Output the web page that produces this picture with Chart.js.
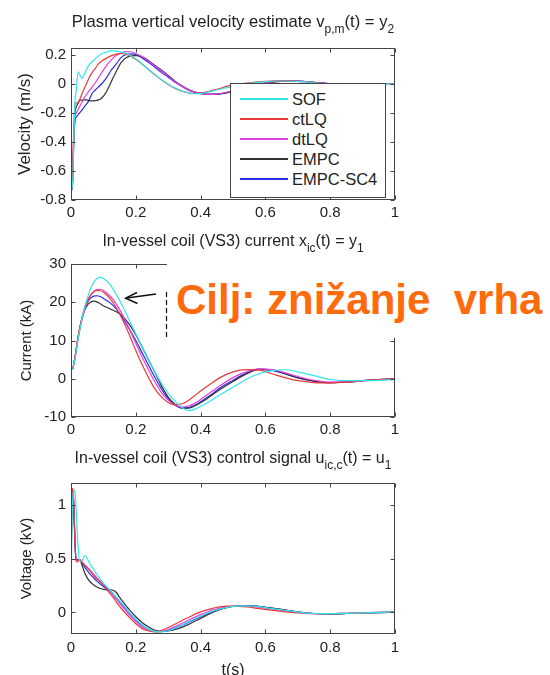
<!DOCTYPE html>
<html>
<head>
<meta charset="utf-8">
<script src="https://cdn.jsdelivr.net/npm/chart.js@4.4.1/dist/chart.umd.min.js"></script>
<style>
  html, body { margin:0; padding:0; background:#fff; }
  body { width:550px; height:675px; overflow:hidden; position:relative; font-family:'Liberation Sans', Arial, sans-serif; color:#222; }
  canvas { position:absolute; left:0; }
  .ttl { position:absolute; left:71px; width:324px; text-align:center; font-size:16px; line-height:16px; white-space:nowrap; }
  .ttl sub { font-size:12px; vertical-align:-6px; line-height:0; }
  #legend { position:absolute; left:230px; top:83px; width:154px; height:113px; border:1px solid #444; background:#fff; }
  .lrow { position:absolute; left:0; height:20px; width:154px; }
  .lline { position:absolute; left:9px; top:9px; width:48px; height:2px; }
  .ltxt { position:absolute; left:61px; top:0; font-size:16.5px; line-height:20px; }
  #mask { position:absolute; left:167px; top:258px; width:383px; height:80px; background:#fff; }
  #goal { position:absolute; left:176px; top:279px; font-size:42px; line-height:42px; font-weight:bold; color:#ff6a0a; white-space:pre; }
</style>
</head>
<body>
<canvas id="cv1" width="550" height="225" style="top:0px"></canvas>
<canvas id="cv2" width="550" height="225" style="top:220px"></canvas>
<canvas id="cv3" width="550" height="250" style="top:440px"></canvas>

<div class="ttl" style="top:14px; font-size:16.6px">Plasma vertical velocity estimate v<sub>p,m</sub>(t) = y<sub>2</sub></div>
<div class="ttl" style="top:233px">In-vessel coil (VS3) current x<sub>ic</sub>(t) = y<sub>1</sub></div>
<div class="ttl" style="top:450px">In-vessel coil (VS3) control signal u<sub>ic,c</sub>(t) = u<sub>1</sub></div>

<div id="legend"></div>
<div id="mask"></div>
<svg style="position:absolute;left:0;top:0" width="550" height="675">
  <line x1="166.5" y1="292" x2="166.5" y2="340" stroke="#111" stroke-width="1.2" stroke-dasharray="5,3"/>
  <line x1="156" y1="294" x2="127" y2="298" stroke="#111" stroke-width="1.4"/>
  <polyline points="137,292.5 125.5,298.2 137.5,303.5" fill="none" stroke="#111" stroke-width="1.4"/>
</svg>
<div id="goal">Cilj: znižanje  vrha</div>

<script>
// ---------- series ----------
const seriesNames  = ['SOF', 'ctLQ', 'dtLQ', 'EMPC', 'EMPC-SC4'];
const seriesColors = ['#2fe6ee', '#e83a3a', '#e03fe0', '#333333', '#2b2bea'];

// ---------- tick labels ----------
const xTicks   = [0, 0.2, 0.4, 0.6, 0.8, 1];
const velTicks = [-0.8, -0.6, -0.4, -0.2, 0, 0.2];
const curTicks = [-10, 0, 10, 20, 30];
const volTicks = [0, 0.5, 1];

// ---------- plot 1: plasma vertical velocity (m/s) ----------
const velT = [0, 0.004, 0.008, 0.012, 0.016, 0.022, 0.028, 0.035, 0.045, 0.055, 0.065, 0.075, 0.085, 0.095, 0.11, 0.125, 0.14, 0.155, 0.17, 0.185, 0.2, 0.22, 0.24, 0.26, 0.28, 0.3, 0.32, 0.34, 0.36, 0.38, 0.4, 0.42, 0.45, 0.5, 0.55, 0.6, 0.65, 0.7, 0.75, 0.8, 0.85, 0.9, 0.95, 1.0];
const velSOF  = [-0.72, -0.72, -0.45, -0.13, -0.05, 0.085, 0.06, 0.04, 0.09, 0.13, 0.155, 0.175, 0.195, 0.21, 0.222, 0.23, 0.228, 0.222, 0.212, 0.195, 0.175, 0.14, 0.1, 0.065, 0.03, 0.0, -0.025, -0.045, -0.058, -0.066, -0.065, -0.055, -0.04, -0.015, 0.005, 0.018, 0.022, 0.02, 0.01, 0.0, -0.005, -0.005, -0.002, 0];
const velCtLQ = [-0.72, -0.7, -0.35, -0.14, -0.13, -0.125, -0.1, -0.06, -0.01, 0.04, 0.08, 0.11, 0.14, 0.16, 0.18, 0.197, 0.208, 0.213, 0.208, 0.192, 0.172, 0.138, 0.1, 0.063, 0.028, -0.002, -0.027, -0.046, -0.058, -0.064, -0.06, -0.053, -0.035, -0.005, 0.01, 0.02, 0.024, 0.02, 0.01, 0.0, -0.004, -0.004, -0.002, 0];
const velDtLQ = [-0.72, -0.72, -0.4, -0.22, -0.2, -0.175, -0.15, -0.12, -0.08, -0.05, -0.02, 0.01, 0.045, 0.08, 0.13, 0.17, 0.2, 0.215, 0.225, 0.224, 0.212, 0.19, 0.158, 0.125, 0.09, 0.055, 0.018, -0.01, -0.034, -0.052, -0.064, -0.07, -0.068, -0.045, -0.015, 0.01, 0.022, 0.022, 0.012, 0.002, -0.004, -0.005, -0.002, 0];
const velEMPC = [-0.72, -0.7, -0.4, -0.2, -0.16, -0.13, -0.11, -0.11, -0.108, -0.112, -0.115, -0.113, -0.108, -0.095, -0.05, 0.02, 0.09, 0.15, 0.182, 0.195, 0.197, 0.19, 0.162, 0.13, 0.096, 0.06, 0.023, -0.008, -0.034, -0.052, -0.063, -0.069, -0.07, -0.05, -0.02, 0.008, 0.02, 0.022, 0.012, 0.002, -0.004, -0.005, -0.002, 0];
const velSC4  = [-0.72, -0.73, -0.45, -0.26, -0.23, -0.21, -0.195, -0.175, -0.145, -0.115, -0.065, -0.04, -0.018, 0.003, 0.045, 0.1, 0.14, 0.185, 0.205, 0.21, 0.205, 0.18, 0.15, 0.115, 0.08, 0.048, 0.015, -0.013, -0.038, -0.055, -0.065, -0.07, -0.069, -0.048, -0.018, 0.009, 0.021, 0.022, 0.012, 0.002, -0.004, -0.005, -0.002, 0];

// ---------- plot 2: in-vessel coil current (kA) ----------
const curT = [0, 0.005, 0.012, 0.02, 0.03, 0.04, 0.05, 0.06, 0.07, 0.08, 0.09, 0.1, 0.12, 0.14, 0.16, 0.18, 0.2, 0.22, 0.24, 0.26, 0.28, 0.3, 0.32, 0.34, 0.36, 0.38, 0.4, 0.43, 0.46, 0.5, 0.54, 0.58, 0.62, 0.66, 0.7, 0.75, 0.8, 0.85, 0.9, 0.95, 1.0];
const curSOF  = [2.3, 2.6, 5, 9.5, 14, 18, 21, 23.5, 25.2, 26.2, 26.5, 26.2, 24.7, 22, 18.8, 15.3, 11.8, 8.2, 4.8, 1.6, -1.3, -3.8, -5.8, -7.3, -8.3, -8.0, -7.2, -5.8, -4.2, -2.2, -0.2, 1.3, 2.1, 2.35, 1.8, 0.8, -0.2, -0.5, -0.5, -0.4, -0.2];
const curCtLQ = [2.3, 2.6, 5.5, 10, 14.5, 18, 20.3, 21.8, 22.7, 23.1, 23.0, 22.6, 21.0, 18.5, 15.3, 11.5, 7.4, 3.6, 0.2, -2.8, -4.8, -6.2, -6.8, -6.6, -5.8, -4.6, -3.2, -1.4, 0.3, 1.8, 2.4, 2.3, 1.3, 0.3, -0.5, -1.0, -1.1, -0.9, -0.5, -0.2, 0];
const curDtLQ = [2.3, 2.6, 5, 9.5, 14, 17.5, 20, 21.7, 22.8, 23.3, 23.4, 23.1, 21.7, 19.5, 16.5, 13.0, 9.3, 5.6, 2.2, -1.0, -3.7, -5.6, -6.9, -7.4, -7.2, -6.5, -5.4, -3.6, -1.8, 0.3, 1.8, 2.6, 2.4, 1.6, 0.6, -0.4, -0.9, -0.9, -0.6, -0.3, 0];
const curEMPC = [2.3, 2.6, 5.5, 10, 14.5, 17.5, 19.2, 20.0, 20.3, 20.1, 19.6, 19.1, 18.3, 17.5, 16.3, 14.2, 11.5, 8.2, 4.8, 1.5, -2.0, -4.8, -6.6, -7.6, -7.7, -7.2, -6.3, -4.6, -2.8, -0.7, 1.2, 2.4, 2.3, 1.3, 0.2, -0.6, -1.0, -0.9, -0.5, -0.2, 0];
const curSC4  = [2.3, 2.6, 5.3, 9.8, 14.3, 17.6, 19.8, 21.0, 21.6, 21.7, 21.5, 21.0, 19.9, 18.2, 15.8, 13.0, 10.0, 6.7, 3.4, 0.2, -2.8, -5.2, -6.8, -7.6, -7.6, -7.0, -6.0, -4.3, -2.4, -0.4, 1.4, 2.5, 2.2, 1.3, 0.3, -0.6, -1.0, -0.9, -0.5, -0.2, 0];

// ---------- plot 3: in-vessel coil control voltage (kV) ----------
const volT = [0, 0.002, 0.004, 0.007, 0.01, 0.013, 0.016, 0.02, 0.025, 0.03, 0.036, 0.042, 0.05, 0.06, 0.07, 0.08, 0.09, 0.1, 0.11, 0.12, 0.13, 0.14, 0.15, 0.16, 0.18, 0.2, 0.22, 0.24, 0.26, 0.28, 0.3, 0.33, 0.36, 0.4, 0.44, 0.48, 0.52, 0.56, 0.6, 0.65, 0.7, 0.75, 0.8, 0.85, 0.9, 0.95, 1.0];
const volSOF  = [0.2, 0.6, 0.95, 1.1, 1.13, 1.1, 0.95, 0.7, 0.5, 0.47, 0.49, 0.53, 0.5, 0.44, 0.4, 0.35, 0.31, 0.27, 0.24, 0.21, 0.175, 0.14, 0.105, 0.075, 0.0, -0.065, -0.115, -0.155, -0.175, -0.18, -0.17, -0.135, -0.09, -0.035, 0.015, 0.045, 0.06, 0.058, 0.045, 0.025, 0.003, -0.01, -0.012, -0.008, -0.004, 0.0, 0.003];
const volCtLQ = [0.2, 1.0, 1.15, 1.12, 0.9, 0.6, 0.47, 0.47, 0.49, 0.485, 0.46, 0.44, 0.415, 0.38, 0.34, 0.31, 0.285, 0.255, 0.215, 0.175, 0.14, 0.095, 0.055, 0.02, -0.045, -0.105, -0.15, -0.172, -0.18, -0.165, -0.14, -0.095, -0.05, 0.005, 0.04, 0.058, 0.057, 0.045, 0.028, 0.01, -0.005, -0.012, -0.012, -0.008, -0.004, 0.0, 0.003];
const volDtLQ = [0.2, 0.95, 1.13, 1.1, 0.88, 0.6, 0.48, 0.48, 0.49, 0.48, 0.46, 0.44, 0.42, 0.39, 0.355, 0.32, 0.29, 0.26, 0.23, 0.195, 0.16, 0.12, 0.085, 0.05, -0.02, -0.085, -0.135, -0.165, -0.178, -0.175, -0.158, -0.12, -0.075, -0.02, 0.025, 0.052, 0.06, 0.055, 0.04, 0.02, 0.0, -0.011, -0.012, -0.008, -0.004, 0.0, 0.003];
const volEMPC = [0.2, 0.9, 1.12, 1.08, 0.85, 0.6, 0.48, 0.48, 0.49, 0.47, 0.42, 0.37, 0.32, 0.28, 0.255, 0.235, 0.222, 0.215, 0.21, 0.21, 0.205, 0.185, 0.14, 0.1, 0.025, -0.04, -0.095, -0.135, -0.165, -0.175, -0.172, -0.15, -0.115, -0.055, 0.005, 0.045, 0.062, 0.06, 0.047, 0.028, 0.005, -0.01, -0.013, -0.01, -0.005, -0.001, 0.002];
const volSC4  = [0.2, 0.85, 1.1, 1.05, 0.85, 0.6, 0.49, 0.49, 0.49, 0.48, 0.45, 0.42, 0.39, 0.35, 0.32, 0.29, 0.265, 0.24, 0.22, 0.2, 0.17, 0.135, 0.1, 0.065, -0.005, -0.07, -0.12, -0.155, -0.175, -0.178, -0.165, -0.135, -0.095, -0.04, 0.01, 0.045, 0.062, 0.06, 0.047, 0.027, 0.004, -0.01, -0.013, -0.01, -0.005, -0.001, 0.002];

// ---------- rendering ----------
const FONT = "'Liberation Sans', Arial, sans-serif";
const fmt = v => String(Number(Number(v).toFixed(2)));

const matlabFrame = {
  id: 'matlabFrame',
  afterDraw(chart) {
    const { ctx, chartArea: a, scales: { x, y } } = chart;
    ctx.save();
    ctx.strokeStyle = '#444';
    ctx.lineWidth = 1;
    const L = Math.round(a.left) + 0.5, R = Math.round(a.right) - 0.5;
    const T = Math.round(a.top) + 0.5, B = Math.round(a.bottom) - 0.5;
    ctx.strokeRect(L, T, R - L, B - T);
    ctx.beginPath();
    x.ticks.forEach(t => {
      const px = Math.round(x.getPixelForValue(t.value)) + 0.5;
      ctx.moveTo(px, B); ctx.lineTo(px, B - 4);
      ctx.moveTo(px, T); ctx.lineTo(px, T + 4);
    });
    y.ticks.forEach(t => {
      const py = Math.round(y.getPixelForValue(t.value)) + 0.5;
      ctx.moveTo(L, py); ctx.lineTo(L + 4, py);
      ctx.moveTo(R, py); ctx.lineTo(R - 4, py);
    });
    ctx.stroke();
    ctx.restore();
  }
};

function build(id, t, series, yMin, yMax, yTicks, yTitle, yTitleSize, yTitlePad, padTop, xHeight, xTickPad, xTitle) {
  const datasets = series.map((vals, i) => ({
    label: seriesNames[i],
    data: t.map((tx, k) => ({ x: tx, y: vals[k] })),
    borderColor: seriesColors[i],
    backgroundColor: seriesColors[i],
    borderWidth: 1.2,
    pointRadius: 0,
    fill: false,
    cubicInterpolationMode: 'monotone'
  }));
  return new Chart(document.getElementById(id), {
    type: 'line',
    data: { datasets },
    options: {
      responsive: false,
      animation: false,
      devicePixelRatio: 1,
      layout: { padding: { top: padTop, right: 155, left: 0, bottom: 0 } },
      plugins: { legend: { display: false }, tooltip: { enabled: false } },
      scales: {
        x: {
          type: 'linear', min: 0, max: 1,
          afterBuildTicks: s => { s.ticks = xTicks.map(v => ({ value: v })); },
          afterFit: s => { s.height = xHeight; },
          grid: { display: false, drawTicks: false },
          border: { display: false },
          ticks: { color: '#222', font: { family: FONT, size: 15 }, padding: xTickPad, maxRotation: 0, autoSkip: false, callback: fmt },
          title: xTitle ? { display: true, text: xTitle, color: '#222', font: { family: FONT, size: 16 }, padding: { top: 0, bottom: 10 } } : { display: false }
        },
        y: {
          type: 'linear', min: yMin, max: yMax,
          afterBuildTicks: s => { s.ticks = yTicks.map(v => ({ value: v })); },
          afterFit: s => { s.width = 71; },
          grid: { display: false, drawTicks: false },
          border: { display: false },
          ticks: { color: '#222', font: { family: FONT, size: 15 }, padding: 5, autoSkip: false, callback: fmt },
          title: { display: true, text: yTitle, color: '#222', font: { family: FONT, size: yTitleSize }, padding: { top: yTitlePad, bottom: 0 } }
        }
      }
    },
    plugins: [matlabFrame]
  });
}

build('cv1', velT, [velSOF, velCtLQ, velDtLQ, velEMPC, velSC4], -0.8, 0.25, velTicks, 'Velocity (m/s)', 17, 15, 48, 25, 4, null);
build('cv2', curT, [curSOF, curCtLQ, curDtLQ, curEMPC, curSC4], -10, 30, curTicks, 'Current (kA)', 15, 18, 44, 28, 4, null);
build('cv3', volT, [volSOF, volCtLQ, volDtLQ, volEMPC, volSC4], -0.2, 1.2, volTicks, 'Voltage (kV)', 15, 18, 43, 56, 5, 't(s)');

// ---------- legend (plot 1) ----------
const leg = document.getElementById('legend');
seriesNames.forEach((name, i) => {
  const row = document.createElement('div');
  row.className = 'lrow';
  row.style.top = (5 + i * 20) + 'px';
  const ln = document.createElement('div');
  ln.className = 'lline';
  ln.style.backgroundColor = seriesColors[i];
  const tx = document.createElement('div');
  tx.className = 'ltxt';
  tx.textContent = name;
  row.appendChild(ln); row.appendChild(tx);
  leg.appendChild(row);
});
</script>
</body>
</html>
